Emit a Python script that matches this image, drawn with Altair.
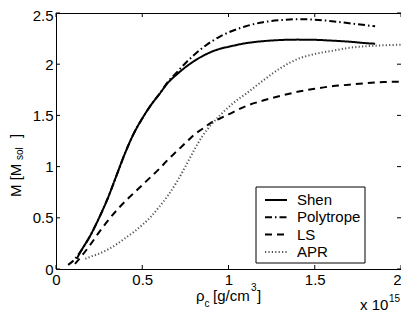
import altair as alt
import pandas as pd

# ---------------- data ----------------
series_names = ["Shen", "Polytrope", "LS", "APR"]

shen_x = [0.12, 0.15, 0.20, 0.25, 0.30, 0.35, 0.40, 0.45, 0.50, 0.55, 0.60, 0.65, 0.70,
          0.75, 0.80, 0.85, 0.90, 0.95, 1.00, 1.10, 1.20, 1.30, 1.40, 1.50, 1.60, 1.70,
          1.80, 1.85]
shen_y = [0.10, 0.19, 0.33, 0.50, 0.69, 0.91, 1.13, 1.32, 1.47, 1.60, 1.71, 1.82, 1.90,
          1.97, 2.03, 2.08, 2.12, 2.15, 2.17, 2.205, 2.225, 2.236, 2.24, 2.238, 2.23, 2.22,
          2.205, 2.20]

poly_x = [0.07, 0.10, 0.12, 0.15, 0.20, 0.25, 0.30, 0.35, 0.40, 0.45, 0.50, 0.55, 0.60,
          0.65, 0.70, 0.75, 0.80, 0.85, 0.90, 0.95, 1.00, 1.10, 1.20, 1.30, 1.40, 1.50,
          1.60, 1.70, 1.80, 1.85]
poly_y = [0.04, 0.08, 0.12, 0.19, 0.33, 0.50, 0.69, 0.91, 1.13, 1.32, 1.47, 1.60, 1.71,
          1.83, 1.92, 2.01, 2.09, 2.16, 2.22, 2.27, 2.31, 2.37, 2.41, 2.43, 2.44, 2.435,
          2.42, 2.40, 2.38, 2.37]

ls_x = [0.11, 0.15, 0.20, 0.25, 0.30, 0.35, 0.40, 0.45, 0.50, 0.55, 0.60, 0.65, 0.70,
        0.75, 0.80, 0.85, 0.90, 0.95, 1.00, 1.10, 1.20, 1.30, 1.40, 1.50, 1.60, 1.70,
        1.80, 1.90, 2.00]
ls_y = [0.05, 0.13, 0.24, 0.36, 0.47, 0.57, 0.66, 0.74, 0.82, 0.90, 0.98, 1.07, 1.15,
        1.23, 1.31, 1.37, 1.43, 1.47, 1.51, 1.59, 1.645, 1.69, 1.73, 1.76, 1.785, 1.80,
        1.815, 1.825, 1.83]

apr_x = [0.17, 0.20, 0.25, 0.30, 0.35, 0.40, 0.45, 0.50, 0.55, 0.60, 0.65, 0.70, 0.75,
         0.80, 0.85, 0.90, 0.95, 1.00, 1.05, 1.10, 1.20, 1.30, 1.40, 1.50, 1.60, 1.70,
         1.80, 1.90, 2.00]
apr_y = [0.10, 0.12, 0.15, 0.19, 0.24, 0.30, 0.36, 0.43, 0.51, 0.61, 0.72, 0.85, 1.00,
         1.16, 1.30, 1.41, 1.50, 1.58, 1.65, 1.71, 1.84, 1.96, 2.05, 2.10, 2.13, 2.16,
         2.175, 2.185, 2.19]

x_ticks = [0, 0.5, 1, 1.5, 2]
y_ticks = [0, 0.5, 1, 1.5, 2, 2.5]

# ---------------- build tables ----------------
rows = []
for name, xs, ys in [("Shen", shen_x, shen_y), ("Polytrope", poly_x, poly_y),
                     ("LS", ls_x, ls_y), ("APR", apr_x, apr_y)]:
    for xv, yv in zip(xs, ys):
        rows.append({"series": name, "rho": xv, "M": yv})
df = pd.DataFrame(rows)

legend_df = pd.DataFrame({"series": series_names, "i": list(range(len(series_names)))})

FONT = "Liberation Sans"
W, H = 345, 256

xscale = alt.Scale(domain=[0, 2], nice=False, zero=False)
yscale = alt.Scale(domain=[0, 2.5], nice=False, zero=False)
dash_scale = alt.Scale(domain=series_names, range=[[1, 0], [7, 3, 1.5, 3], [7, 5], [1.2, 2.2]])
color_scale = alt.Scale(domain=series_names, range=["black", "black", "black", "#555555"])

axis_common = dict(title=None, grid=False, domain=False, ticks=False, tickSize=0,
                   labelFont=FONT, labelFontSize=15, labelColor="black",
                   labelOverlap=False, format="~g")
x_axis = alt.Axis(values=x_ticks, labelPadding=3, labelFlush=False,
                  labelAlign=alt.ExprRef(expr="datum.value == 2 ? 'right' : 'center'"),
                  **axis_common)
y_axis = alt.Axis(values=y_ticks, labelPadding=3,
                  labelOffset=alt.ExprRef(expr="datum.value == 2.5 ? 2 : 0"),
                  **axis_common)

lines = alt.Chart(df).mark_line(strokeWidth=2, interpolate="monotone", clip=True).encode(
    x=alt.X("rho:Q", scale=xscale, axis=x_axis),
    y=alt.Y("M:Q", scale=yscale, axis=y_axis),
    strokeDash=alt.StrokeDash("series:N", scale=dash_scale, legend=None),
    color=alt.Color("series:N", scale=color_scale, legend=None),
)

xt = pd.DataFrame({"rho": x_ticks})
yt = pd.DataFrame({"M": y_ticks})
tick_bottom = alt.Chart(xt).mark_rule(color="black", strokeWidth=1).encode(
    x=alt.X("rho:Q", scale=xscale, axis=x_axis), y=alt.value(H), y2=alt.value(H - 4))
tick_top = alt.Chart(xt).mark_rule(color="black", strokeWidth=1).encode(
    x=alt.X("rho:Q", scale=xscale, axis=x_axis), y=alt.value(0), y2=alt.value(4))
tick_left = alt.Chart(yt).mark_rule(color="black", strokeWidth=1).encode(
    y=alt.Y("M:Q", scale=yscale, axis=y_axis), x=alt.value(0), x2=alt.value(4))
tick_right = alt.Chart(yt).mark_rule(color="black", strokeWidth=1).encode(
    y=alt.Y("M:Q", scale=yscale, axis=y_axis), x=alt.value(W), x2=alt.value(W - 4))

# ---------------- legend ----------------
box = alt.Chart(alt.Data(values=[{"a": 1}])).mark_rect(
    fill="white", stroke="black", strokeWidth=1).encode(
    x=alt.value(200), x2=alt.value(309), y=alt.value(174), y2=alt.value(250))

leg_lines = alt.Chart(legend_df).transform_calculate(ly="187 + 17.3*datum.i").mark_rule(
    strokeWidth=2).encode(
    y=alt.Y("ly:Q", scale=None), x=alt.value(209), x2=alt.value(231),
    strokeDash=alt.StrokeDash("series:N", scale=dash_scale, legend=None),
    color=alt.Color("series:N", scale=color_scale, legend=None),
)
leg_text = alt.Chart(legend_df).transform_calculate(ly="187 + 17.3*datum.i").mark_text(
    align="left", baseline="middle", font=FONT, fontSize=15, color="black").encode(
    y=alt.Y("ly:Q", scale=None), x=alt.value(241), text="series:N")


# ---------------- axis titles (with sub/superscripts) ----------------
def txt(s, x, y, size=15, angle=0):
    kw = dict(align="left", baseline="alphabetic", font=FONT, fontSize=size, color="black")
    if angle:
        kw["angle"] = angle
    return alt.Chart(alt.Data(values=[{"t": s}])).mark_text(**kw).encode(
        text="t:N", x=alt.value(x), y=alt.value(y))


titles = [
    txt("ρ", 140, 288),
    txt("c", 148.5, 294, 10),
    txt("[g/cm", 157, 288),
    txt("3", 195, 278, 10),
    txt("]", 201, 288),
    txt("x 10", 304, 297),
    txt("15", 333, 289, 10),
    txt("M [M", -35, 184, 15, 270),
    txt("sol", -33, 147, 10, 270),
    txt("]", -35, 125, 15, 270),
]

chart = alt.layer(
    lines, tick_bottom, tick_top, tick_left, tick_right, box, leg_lines, leg_text, *titles
).properties(
    width=W, height=H,
    autosize=alt.AutoSizeParams(type="none"),
    padding={"left": 48, "top": 5, "right": 0, "bottom": 44},
).configure_view(stroke="black", strokeWidth=1)

chart.save("out.html", embed_options={"renderer": "svg", "actions": False})
